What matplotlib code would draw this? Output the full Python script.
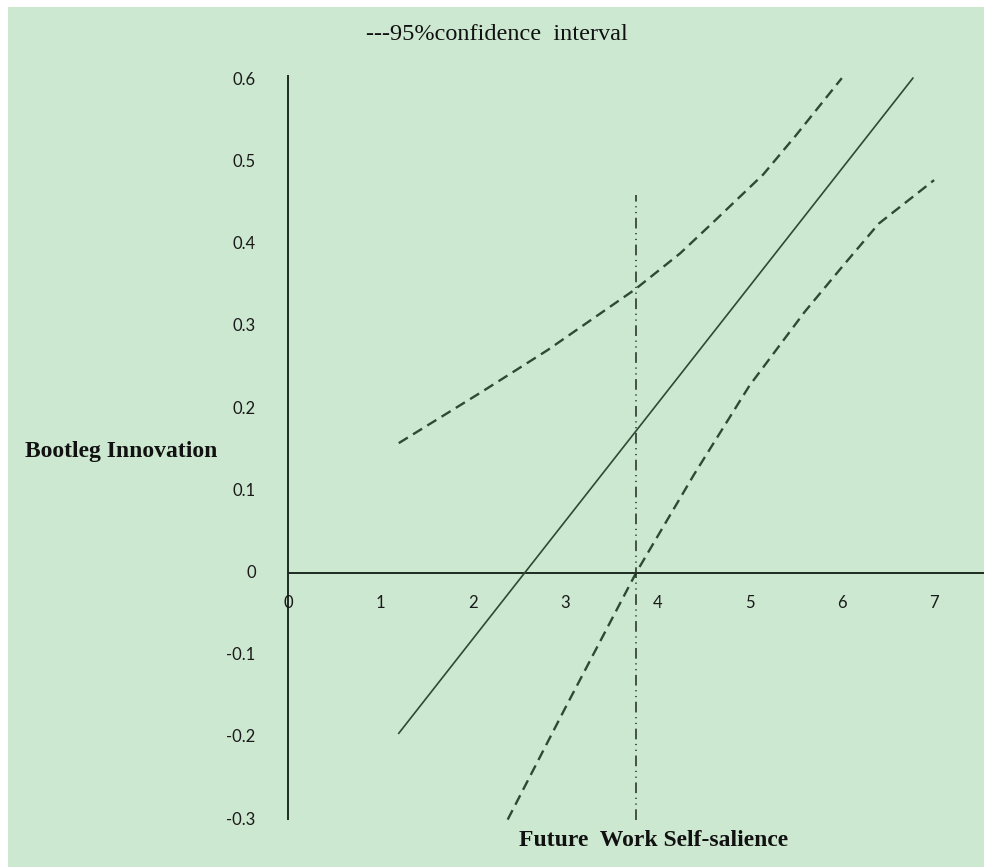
import matplotlib.pyplot as plt
import matplotlib.patches as patches

# Effet conditionnel + intervalle de confiance à 95 %
x_ticks = [0, 1, 2, 3, 4, 5, 6, 7]
y_ticks = [0.6, 0.5, 0.4, 0.3, 0.2, 0.1, 0, -0.1, -0.2, -0.3]
y_tick_labels = ['0.6', '0.5', '0.4', '0.3', '0.2', '0.1', '0', '-0.1', '-0.2', '-0.3']

effet_x = [1.2, 6.77]
effet_y = [-0.195, 0.602]

ic_haut_x = [1.2, 2.08, 2.81, 3.76, 4.25, 4.6, 5.15, 5.5, 6.0]
ic_haut_y = [0.158, 0.219, 0.271, 0.345, 0.389, 0.426, 0.485, 0.532, 0.602]

ic_bas_x = [2.38, 3.0, 3.77, 4.4, 5.0, 5.6, 6.0, 6.4, 7.0]
ic_bas_y = [-0.30, -0.165, 0.0, 0.12, 0.228, 0.318, 0.372, 0.425, 0.478]

seuil_x = 3.77          # Johnson-Neyman
seuil_y = [-0.3, 0.46]

fond = '#cde8d0'
trait = '#2e4a33'

fig = plt.figure(figsize=(9.84, 8.67), dpi=100, facecolor='white')
ax = fig.add_axes([0, 0, 1, 1])
ax.set_facecolor('none')
ax.set_xlim(-288 / 92.3, (984 - 288) / 92.3)
ax.set_ylim(-(867 - 573) / 822, 573 / 822)
ax.axis('off')
# Fond vert (petite marge blanche en haut et à gauche)
ax.add_patch(patches.Rectangle((8 / 984, 0), 1 - 8 / 984, 1 - 7 / 867,
                               transform=fig.transFigure, facecolor=fond,
                               edgecolor='none', zorder=-10, clip_on=False))

# Axes dessinés à la main (croisement en 0)
ax.plot([0, 0], [-0.3, 0.606], color='#1e2a20', lw=1.4, solid_capstyle='butt')
ax.plot([0, 7.6], [0, 0], color='#1e2a20', lw=1.4, solid_capstyle='butt')

for v, lab in zip(y_ticks, y_tick_labels):
    ax.text(-0.35, v, lab, ha='right', va='center', fontsize=12,
            family='Lato', color='#1a1a1a')
for v in x_ticks:
    ax.text(v, -0.0365, str(v), ha='center', va='center', fontsize=12,
            family='Lato', color='#1a1a1a')

ax.plot(effet_x, effet_y, color=trait, lw=1.2)
l1, = ax.plot(ic_haut_x, ic_haut_y, color=trait, lw=1.7)
l1.set_dashes((4.5, 2.6))
l2, = ax.plot(ic_bas_x, ic_bas_y, color=trait, lw=1.7)
l2.set_dashes((4.5, 2.6))
l3, = ax.plot([seuil_x, seuil_x], seuil_y, color='#1e2a20', lw=1.1)
l3.set_dashes((7, 3, 0.8, 3, 0.8, 3))

fig.text(497 / 984, 1 - 35 / 867, '---95%confidence  interval', ha='center',
         va='center', fontsize=17.5, family='Liberation Serif', color='#111111')
fig.text(25 / 984, 1 - 452 / 867, 'Bootleg Innovation', ha='left', va='center',
         fontsize=17, family='Liberation Serif', weight='bold', color='#111111')
fig.text(519 / 984, 1 - 840 / 867, 'Future  Work Self-salience', ha='left',
         va='center', fontsize=17, family='Liberation Serif', weight='bold',
         color='#111111')

fig.savefig('out.png', dpi=100, facecolor='white')
